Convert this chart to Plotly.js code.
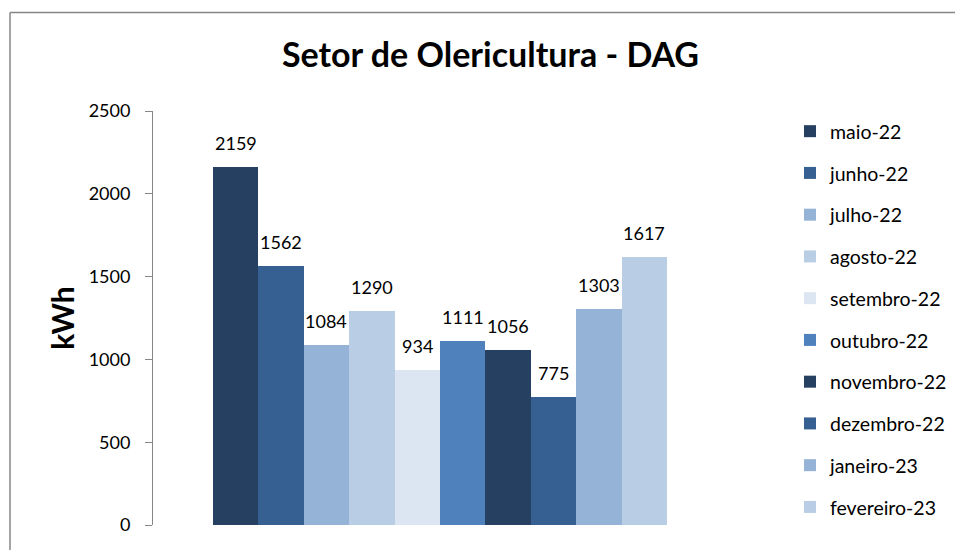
<!DOCTYPE html>
<html>
<head>
<meta charset="utf-8">
<script src="https://cdn.plot.ly/plotly-3.0.1.min.js"></script>
<style>
  html, body { margin: 0; padding: 0; background: #fff; }
  #chart { width: 955px; height: 550px; }
</style>
</head>
<body>
<div id="chart"></div>
<script>
// ---- data ----
const months = ["maio-22", "junho-22", "julho-22", "agosto-22", "setembro-22",
                "outubro-22", "novembro-22", "dezembro-22", "janeiro-23", "fevereiro-23"];
const consumption = [2159, 1562, 1084, 1290, 934, 1111, 1056, 775, 1303, 1617];
const colors = ["#254061", "#376092", "#95B3D7", "#B9CDE5", "#DCE6F2",
                "#4F81BD", "#254061", "#376092", "#95B3D7", "#B9CDE5"];
const yTicks = [0, 500, 1000, 1500, 2000, 2500];
const chartTitle = "Setor de Olericultura - DAG";
const yTitle = "kWh";

// ---- layout constants ----
const W = 955, H = 550;
const M = { l: 153, r: 228, t: 111, b: 25, autoexpand: false };
const plotW = W - M.l - M.r, plotH = H - M.t - M.b;
const FONT = "Lato, 'Open Sans', sans-serif";

const traces = months.map((m, i) => ({
  type: "bar",
  name: m,
  legendgroup: m,
  x: [i],
  y: [consumption[i]],
  width: [1],
  marker: { color: colors[i], line: { width: 0 } },
  hoverinfo: "name+y"
}));

const labels = months.map((m, i) => ({
  x: i, y: consumption[i], xref: "x", yref: "y",
  text: String(consumption[i]),
  showarrow: false, yanchor: "bottom", xanchor: "center", yshift: 11,
  font: { family: FONT, size: 18, color: "#000" }
}));

const px2x = px => (px - M.l) / plotW;
const py2y = py => 1 - (py - M.t) / plotH;

const layout = {
  width: W, height: H,
  margin: M,
  paper_bgcolor: "#fff",
  plot_bgcolor: "#fff",
  font: { family: FONT, size: 18, color: "#000" },
  title: {
    text: "<b>" + chartTitle + "</b>",
    font: { family: FONT, size: 34, color: "#000" },
    x: 490.5 / W, xanchor: "center",
    y: 1 - 55 / H, yanchor: "middle"
  },
  showlegend: true,
  legend: {
    x: px2x(790), xanchor: "left",
    y: py2y(112), yanchor: "top",
    font: { family: FONT, size: 19.5, color: "#000" },
    tracegroupgap: 13.4,
    traceorder: "grouped",
    bgcolor: "rgba(0,0,0,0)"
  },
  bargap: 0,
  xaxis: {
    range: [-1.82, 10.82],
    showticklabels: false, showgrid: false, zeroline: false,
    showline: false, ticks: ""
  },
  yaxis: {
    range: [0, 2500],
    tickvals: yTicks,
    ticktext: yTicks.map(String),
    showgrid: false, zeroline: false,
    showline: true, linecolor: "#868686", linewidth: 1,
    ticks: "outside", ticklen: 7, tickcolor: "#868686", tickwidth: 1,
    ticklabelstandoff: 11,
    tickfont: { family: FONT, size: 18, color: "#000" },
    title: {
      text: "<b>" + yTitle + "</b>",
      font: { family: FONT, size: 30, color: "#000" },
      standoff: 5
    }
  },
  annotations: labels,
  shapes: [
    { type: "line", xref: "paper", yref: "paper",
      x0: px2x(10), x1: px2x(10), y0: py2y(12.5), y1: py2y(560),
      line: { color: "#868686", width: 1.5 }, layer: "below" },
    { type: "line", xref: "paper", yref: "paper",
      x0: px2x(10), x1: px2x(965), y0: py2y(12.5), y1: py2y(12.5),
      line: { color: "#868686", width: 1.5 }, layer: "below" }
  ]
};

Plotly.newPlot("chart", traces, layout, { displayModeBar: false, staticPlot: true });
</script>
</body>
</html>
